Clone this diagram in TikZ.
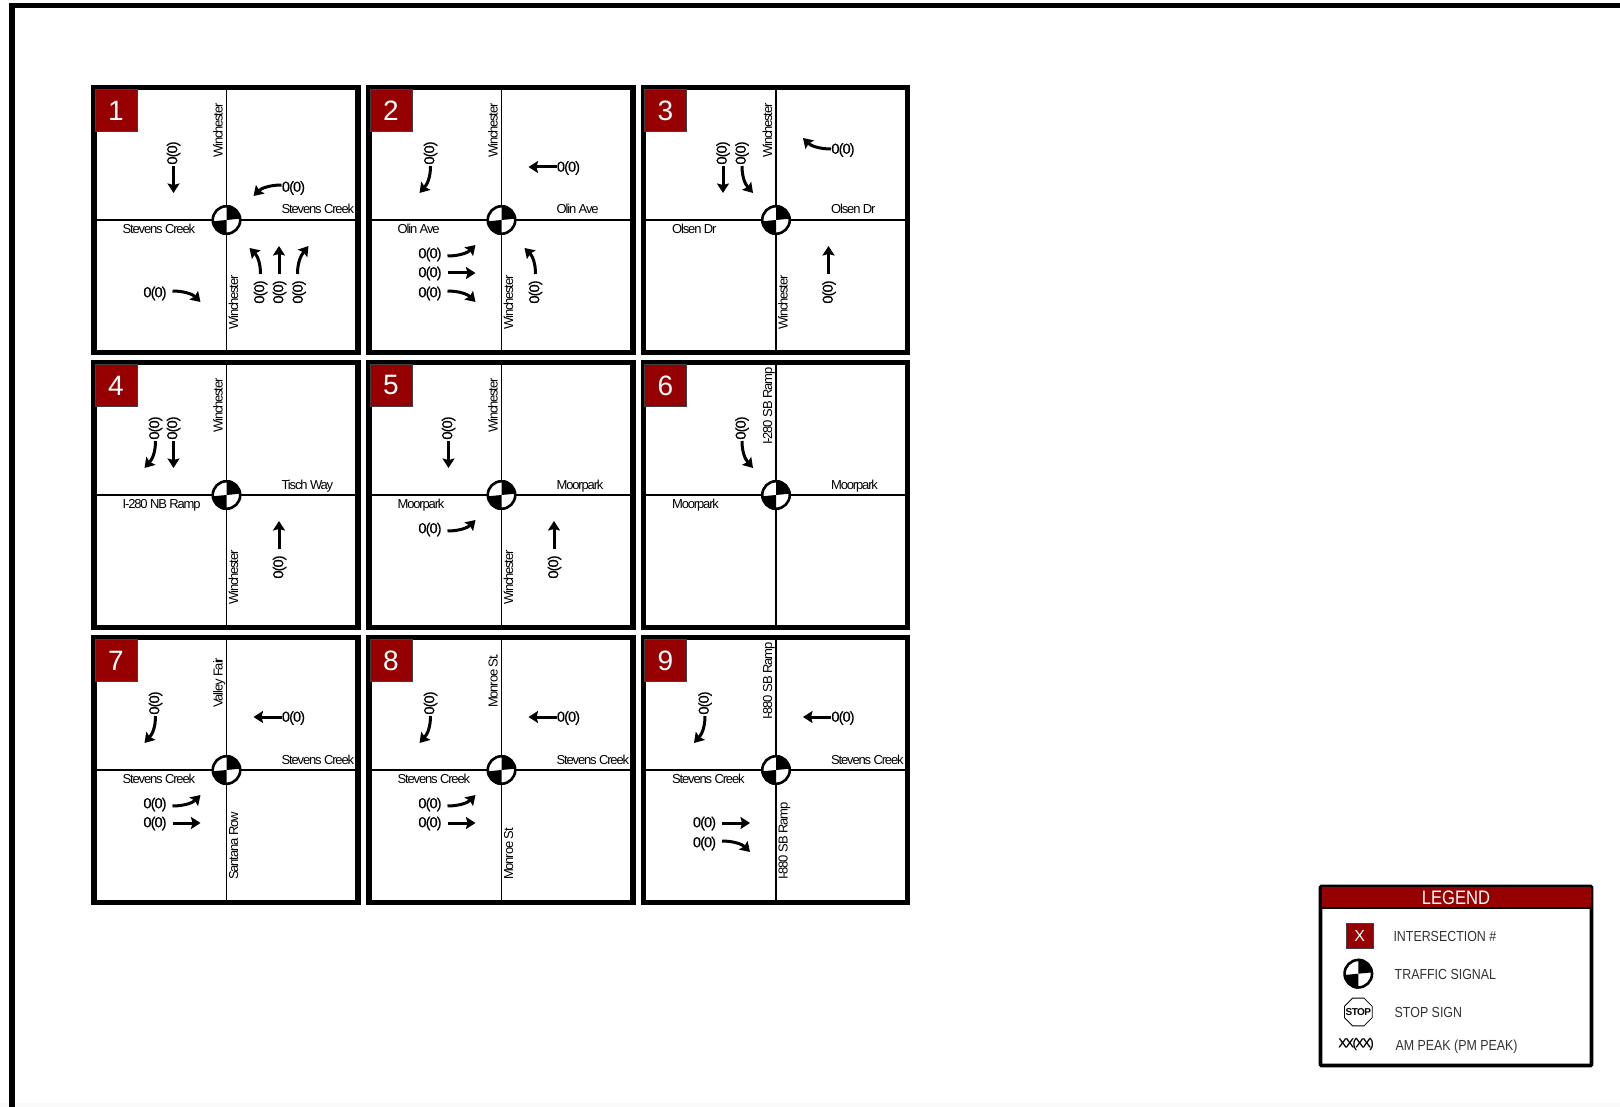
\documentclass[tikz,border=0pt]{standalone}
\usepackage{fontspec}
\usetikzlibrary{arrows.meta,shapes.geometric}
\setmainfont{Liberation Sans}
\newfontfamily\roadfont[LetterSpace=-9]{Liberation Sans}
\newfontfamily\volfont[LetterSpace=-6,FakeBold=0.25]{Liberation Sans}
\newfontfamily\xxfont[LetterSpace=-12,FakeBold=0.2]{Liberation Sans}
\newfontfamily\stopfont[LetterSpace=-6]{Liberation Sans}
\newfontfamily\legfont[FakeStretch=0.85]{Liberation Sans}
\definecolor{hdrred}{HTML}{960000}
\definecolor{legtext}{HTML}{333333}
\tikzset{
  x=1pt,y=-1pt,
  panelbox/.style={draw=black,line width=5.2pt,minimum width=264pt,minimum height=265pt,inner sep=0pt,outer sep=0pt,fill=white},
  numbox/.style={fill=hdrred,draw=black!75,line width=.7pt,minimum width=42pt,minimum height=42pt,inner sep=0pt,text=white,font=\fontsize{28}{28}\selectfont},
  road/.style={draw=black,line width=1.3pt},
  roadlabel/.style={font=\roadfont\fontsize{13}{13}\selectfont,inner sep=0pt,anchor=base west},
  vol/.style={font=\volfont\fontsize{14.5}{14.5}\selectfont,inner sep=0pt},
  mvarrow/.style={draw=black,line width=3pt,-{Stealth[length=9.5pt,width=12pt,inset=1.5pt]}},
  legtxt/.style={font=\legfont\fontsize{14.6}{14.6}\selectfont,text=legtext,inner sep=0pt,anchor=west},
}
% signal symbol: #1 name, #2 position
\newcommand\signal[2]{%
  \node[circle,draw=black,line width=2.6pt,fill=white,minimum size=27.5pt,inner sep=0pt] (#1) at (#2) {};
  \fill[black] (#1.center) -- (#1.north) arc[start angle=90,end angle=0,radius=13.75pt] -- cycle;
  \fill[black] (#1.center) -- (#1.south) arc[start angle=270,end angle=180,radius=13.75pt] -- cycle;
}
% movement: name, label pos, label rotation, start, ctrl1, ctrl2, end
\newcommand\curvemv[7]{%
  \node[vol,rotate=#3] (\pid#1) at (#2) {0(0)};
  \coordinate (\pid#1s) at (#4);
  \coordinate (\pid#1e) at (#7);
  \draw[mvarrow] (\pid#1s) .. controls (#5) and (#6) .. (\pid#1e);
}
\newcommand\straightmv[5]{%
  \node[vol,rotate=#3] (\pid#1) at (#2) {0(0)};
  \coordinate (\pid#1s) at (#4);
  \coordinate (\pid#1e) at (#5);
  \draw[mvarrow] (\pid#1s) -- (\pid#1e);
}
\newcommand\SBR{\curvemv{sbr}{-71,-67}{90}{-71,-54}{-71,-43}{-74,-36}{-82,-27}}
\newcommand\SBT{\straightmv{sbt}{-53,-67}{90}{-53,-54}{-53,-27}}
\newcommand\SBL{\curvemv{sbl}{-34,-67}{90}{-34,-54}{-34,-43}{-31,-36}{-23,-27}}
\newcommand\WBL{\curvemv{wbl}{67,-32}{0}{55,-35}{44,-35}{35,-32}{27,-24}}
\newcommand\WBT{\straightmv{wbt}{67,-52}{0}{55,-53}{27,-53}}
\newcommand\WBR{\curvemv{wbr}{67,-70}{0}{55,-71}{44,-71}{35,-74}{27,-82}}
\newcommand\EBL{\curvemv{ebl}{-71.5,34.5}{0}{-54,36}{-43,36}{-34,33}{-26,25}}
\newcommand\EBT{\straightmv{ebt}{-71.5,53.5}{0}{-54,53}{-26,53}}
\newcommand\EBR{\curvemv{ebr}{-71.5,73.5}{0}{-54,71}{-43,71}{-34,74}{-26,82}}
\newcommand\NBL{\curvemv{nbl}{34,72}{90}{34,54}{34,43}{31,36}{23,28}}
\newcommand\NBT{\straightmv{nbt}{53,72}{90}{52.5,54}{52.5,26}}
\newcommand\NBR{\curvemv{nbr}{72.5,72}{90}{71,54}{71,43}{74,36}{82,26}}
% panel: id, centre, top label, top-label start, bottom label, left label, right label, movements
\newcommand\panel[8]{%
  \begin{scope}[shift={(#2)}]
    \def\pid{p#1}
    \node[panelbox] (p#1box) at (-.6,0) {};
    \draw[road] ([xshift=.6pt]p#1box.north) -- ([xshift=.6pt]p#1box.south);
    \draw[road] (p#1box.west) -- (p#1box.east);
    \node[numbox] (p#1num) at (-110.5,-109.5) {#1};
    \signal{p#1sig}{0,0}
    \node[roadlabel,rotate=90] (p#1top) at (-4,#4) {#3};
    \if\relax\detokenize{#5}\relax\else\node[roadlabel,rotate=90] (p#1bot) at (11.5,110) {#5};\fi
    \node[roadlabel] (p#1left) at (-104,13.5) {#6};
    \node[roadlabel] (p#1right) at (55,-6) {#7};
    #8
  \end{scope}
}
\begin{document}
\begin{tikzpicture}
\useasboundingbox (0,0) rectangle (1620,1107);
\fill[white] (0,0) rectangle (1620,1107);
\fill[black!2] (0,1103) rectangle (1620,1107);
\coordinate (framea) at (1620,5.5);
\coordinate (frameb) at (12.2,5.5);
\coordinate (framec) at (12.2,1107);
\draw[line width=5.5pt,line join=miter] (framea) -- (frameb) -- (framec);

\panel{1}{226.5,220}{Winchester}{-62}{Winchester}{Stevens Creek}{Stevens Creek}{\SBT\WBL\EBR\NBL\NBT\NBR}
\panel{2}{501.5,220}{Winchester}{-62}{Winchester}{Olin Ave}{Olin Ave}{\SBR\WBT\EBL\EBT\EBR\NBL}
\panel{3}{776,220}{Winchester}{-62}{Winchester}{Olsen Dr}{Olsen Dr}{\SBT\SBL\WBR\NBT}
\panel{4}{226.5,495}{Winchester}{-62}{Winchester}{I-280 NB Ramp}{Tisch Way}{\SBR\SBT\NBT}
\panel{5}{501.5,495}{Winchester}{-62}{Winchester}{Moorpark}{Moorpark}{\SBT\EBL\NBT}
\panel{6}{776,495}{I-280 SB Ramp}{-50}{}{Moorpark}{Moorpark}{\SBL}
\panel{7}{226.5,770}{Valley Fair}{-62}{Santana Row}{Stevens Creek}{Stevens Creek}{\SBR\WBT\EBL\EBT}
\panel{8}{501.5,770}{Monroe St.}{-62}{Monroe St}{Stevens Creek}{Stevens Creek}{\SBR\WBT\EBL\EBT}
\panel{9}{776,770}{I-880 SB Ramp}{-50}{I-880 SB Ramp}{Stevens Creek}{Stevens Creek}{\SBR\WBT\EBT\EBR}

% legend
\node[draw=black,line width=3.6pt,fill=white,minimum width=271pt,minimum height=179pt,inner sep=0pt,outer sep=0pt,rounded corners=1pt] (legbox) at (1456,976) {};
\node[fill=hdrred,minimum width=269pt,minimum height=20.5pt,inner sep=0pt,text=white,font=\legfont\fontsize{19.5}{19.5}\selectfont] (leghead) at (1456,897.5) {LEGEND};
\draw[line width=2.6pt] (leghead.south west) -- (leghead.south east);
\node[fill=hdrred,draw=black!75,line width=.7pt,minimum width=27pt,minimum height=25.5pt,inner sep=0pt,text=white,font=\fontsize{16}{16}\selectfont] (legx) at (1359.7,936) {X};
\signal{legsig}{1358.3,973.7}
\node[regular polygon,regular polygon sides=8,draw=black,line width=.8pt,minimum size=30pt,inner sep=0pt] (legstop) at (1358.3,1012) {};
\node[font=\stopfont\fontsize{10}{10}\selectfont\bfseries,inner sep=0pt] (legstoptext) at (legstop.center) {STOP};
\node[font=\xxfont\fontsize{13}{13}\selectfont,inner sep=0pt] (legxx) at (1356,1044) {XX(XX)};
\node[legtxt] (legt1) at (1393.3,936) {INTERSECTION \#};
\node[legtxt] (legt2) at (1394.5,974) {TRAFFIC SIGNAL};
\node[legtxt] (legt3) at (1394.5,1012) {STOP SIGN};
\node[legtxt] (legt4) at (1395.3,1046.5) {AM PEAK (PM PEAK)};
\end{tikzpicture}
\end{document}
